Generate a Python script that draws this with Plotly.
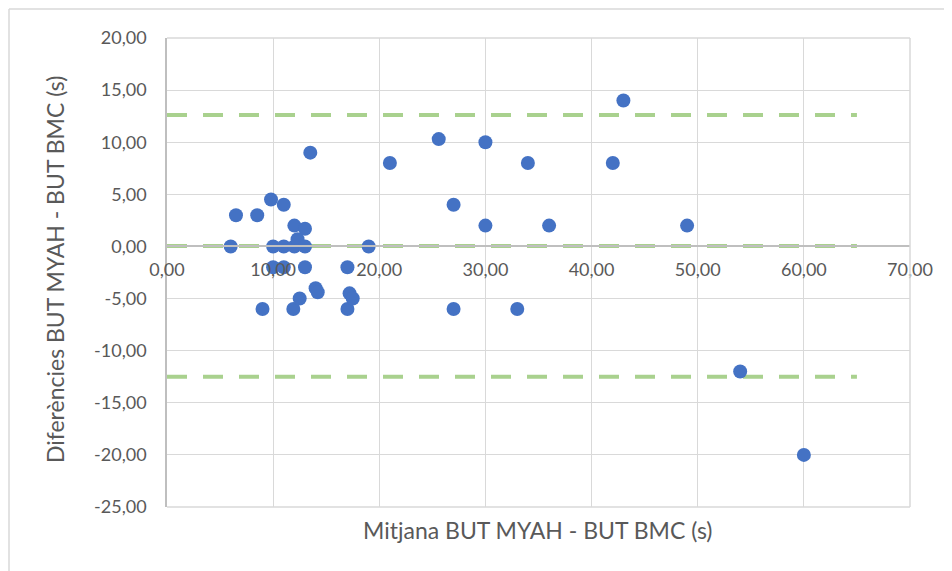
import plotly.graph_objects as go

# Data (mean vs difference, seconds)
mean_vals = [6, 6.5, 8.5, 9, 9.8, 10, 10, 11, 11, 11, 12, 12, 11.9, 12.3, 12.5,
             13, 13, 13, 13.5, 14, 14.2, 17, 17, 17.2, 17.5, 19, 21, 25.6, 27, 27,
             30, 30, 33, 34, 36, 42, 43, 49, 54, 60]
diff_vals = [0, 3, 3, -6, 4.5, 0, -2, 4, 0, -2, 2, 0, -6, 0.7, -5,
             1.7, 0, -2, 9, -4, -4.4, -2, -6, -4.5, -5, 0, 8, 10.3, 4, -6,
             10, 2, -6, 8, 2, 8, 14, 2, -12, -20]

limit_x = [0, 65]
upper_loa = 12.6
mean_diff = 0.05
lower_loa = -12.5

x_range = [0, 70]
y_range = [-25, 20]
x_ticks = [0, 10, 20, 30, 40, 50, 60, 70]
y_ticks = [20, 15, 10, 5, 0, -5, -10, -15, -20, -25]


def fmt(v):
    return f"{v:.2f}".replace(".", ",")


x_ticktext = [fmt(v) for v in x_ticks]
y_ticktext = [fmt(v) for v in y_ticks]

x_title = "Mitjana BUT MYAH - BUT BMC (s)"
y_title = "Diferències BUT MYAH - BUT BMC (s)"

FONT = "Lato"
GRAY = "#595959"
GRID = "#d9d9d9"
GREEN = "#A9D18E"
BLUE = "#4472C4"

fig = go.Figure()

for val in [upper_loa, mean_diff, lower_loa]:
    fig.add_trace(go.Scatter(
        x=limit_x, y=[val, val], mode="lines",
        line=dict(color=GREEN, width=4, dash="20px,16px"),
        hoverinfo="skip", showlegend=False))

fig.add_trace(go.Scatter(
    x=mean_vals, y=diff_vals, mode="markers",
    marker=dict(color=BLUE, size=14, line=dict(width=0)),
    showlegend=False))

# The page body has an 8px margin, so the figure is drawn 8px smaller
OFF = 8
W, H = 952 - OFF, 571 - OFF
ml, mr, mt, mb = 167 - OFF, 42, 38 - OFF, 64
pw = W - ml - mr
ph = H - mt - mb

zero_pos = (0 - y_range[0]) / (y_range[1] - y_range[0])

fig.update_layout(
    width=W, height=H,
    margin=dict(l=ml, r=mr, t=mt, b=mb, autoexpand=False),
    paper_bgcolor="white", plot_bgcolor="white",
    font=dict(family=FONT, color=GRAY, size=18),
    xaxis=dict(
        range=x_range, tickvals=x_ticks, ticktext=x_ticktext,
        showgrid=True, gridcolor=GRID, gridwidth=1,
        zeroline=False, showline=True, linecolor="#bfbfbf", linewidth=1.5,
        anchor="free", position=zero_pos,
        ticks="", ticklabelstandoff=7,
        tickfont=dict(family=FONT, size=18, color=GRAY),
    ),
    yaxis=dict(
        range=y_range, tickvals=y_ticks, ticktext=y_ticktext,
        showgrid=True, gridcolor=GRID, gridwidth=1,
        zeroline=False, showline=True, linecolor="#bfbfbf", linewidth=1.5,
        ticks="", ticklabelstandoff=15,
        tickfont=dict(family=FONT, size=18, color=GRAY),
    ),
    shapes=[
        # top, right and bottom plot borders
        dict(type="line", xref="paper", yref="paper", x0=0, x1=1, y0=1, y1=1,
             line=dict(color=GRID, width=1.5)),
        dict(type="line", xref="paper", yref="paper", x0=1, x1=1, y0=0, y1=1,
             line=dict(color=GRID, width=1.5)),
        dict(type="line", xref="paper", yref="paper", x0=0, x1=1, y0=0, y1=0,
             line=dict(color=GRID, width=1.5)),
        # outer chart border (top and left edges)
        dict(type="line", xref="paper", yref="paper",
             x0=-(ml - 1) / pw, x1=(W - ml + 5) / pw,
             y0=1 + (mt - 1) / ph, y1=1 + (mt - 1) / ph,
             line=dict(color=GRID, width=1.5)),
        dict(type="line", xref="paper", yref="paper",
             x0=-(ml - 1) / pw, x1=-(ml - 1) / pw,
             y0=1 + (mt - 1) / ph, y1=-(mb + 5) / ph,
             line=dict(color=GRID, width=1.5)),
    ],
    annotations=[
        dict(text=x_title, xref="paper", yref="paper",
             x=(538 - 167) / pw, y=-(530 - 507) / ph,
             xanchor="center", yanchor="middle", showarrow=False,
             font=dict(family=FONT, size=23, color=GRAY)),
        dict(text=y_title, xref="paper", yref="paper",
             x=-(167 - 55) / pw, y=(507 - 270) / ph,
             xanchor="center", yanchor="middle", showarrow=False, textangle=-90,
             font=dict(family=FONT, size=23, color=GRAY)),
    ],
)

fig.write_html("out.html")
